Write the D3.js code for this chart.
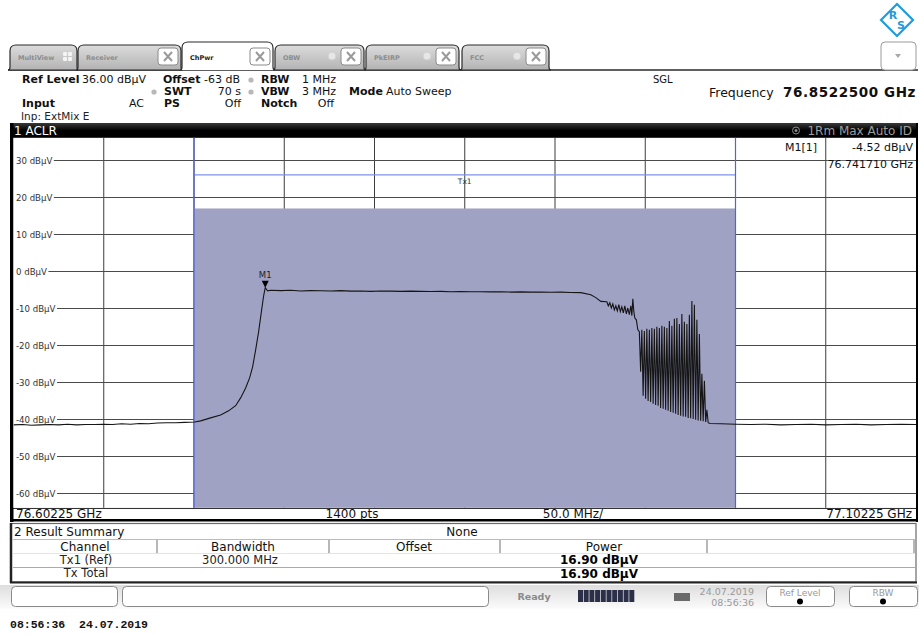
<!DOCTYPE html>
<html><head><meta charset="utf-8">
<script src="https://cdn.jsdelivr.net/npm/d3@7"></script>
<style>body{margin:0;background:#fff;} svg{display:block;font-family:"DejaVu Sans",sans-serif;}</style>
</head><body><svg id="c" width="919" height="635"></svg>
<script>
// ---------------- data ----------------
const startFreqGHz = 76.60225, stopFreqGHz = 77.10225;
const refLevel = 36, bottomLevel = -64;
const yTicks = [30, 20, 10, 0, -10, -20, -30, -40, -50, -60];
const xGridGHz = [76.65225, 76.70225, 76.75225, 76.80225, 76.85225, 76.90225, 76.95225, 77.00225, 77.05225];
const txStartGHz = 76.70225, txStopGHz = 77.00225, txPower = 16.90, txLineLevel = 26;
const markerFreqGHz = 76.741710, markerLevel = -4.52;

const traceFreqGHz = [76.60225, 76.60724, 76.61223, 76.61722, 76.62221, 76.62719, 76.63218, 76.63717, 76.64216, 76.64715,
  76.65214, 76.65713, 76.66212, 76.66711, 76.67209, 76.67708, 76.68207, 76.68706, 76.69205, 76.69704,
  76.70258, 76.70591, 76.71145, 76.71699, 76.72143, 76.72531, 76.72808, 76.73085, 76.73307, 76.73473,
  76.73640, 76.73806, 76.73972, 76.74083, 76.74171, 76.74305, 76.74471,
  76.75025, 76.75580, 76.76134, 76.76688, 76.77243, 76.77797, 76.78351, 76.78906, 76.79460, 76.80015,
  76.80569, 76.81123, 76.81678, 76.82232, 76.82786, 76.83341, 76.83895, 76.84449, 76.85004, 76.85558,
  76.86112, 76.86667, 76.87221, 76.87775, 76.88330, 76.88884, 76.89439, 76.89993, 76.90547, 76.91102, 76.91656,
  76.92209, 76.92486, 76.92764,
  76.93096, 76.93179, 76.93263, 76.93346, 76.93429, 76.93512, 76.93595, 76.93678, 76.93761, 76.93845,
  76.93928, 76.94011, 76.94094, 76.94177, 76.94260, 76.94343, 76.94427, 76.94482, 76.94537, 76.94593,
  76.94648, 76.94731, 76.94815];
const traceLevel = [-41.6, -41.5, -41.7, -41.6, -41.5, -41.6, -41.4, -41.6, -41.5, -41.5,
  -41.4, -41.5, -41.3, -41.4, -41.2, -41.3, -41.1, -41.0, -41.0, -40.9,
  -40.8, -40.5, -39.7, -38.9, -37.8, -36.4, -34.3, -31.6, -28.9, -25.9,
  -21.3, -16.4, -10.5, -6.7, -4.52, -5.35, -5.2,
  -5.3, -5.2, -5.4, -5.3, -5.35, -5.4, -5.3, -5.45, -5.4, -5.5,
  -5.4, -5.45, -5.5, -5.45, -5.5, -5.55, -5.5, -5.6, -5.55, -5.6,
  -5.6, -5.65, -5.6, -5.7, -5.65, -5.7, -5.7, -5.75, -5.7, -5.8, -5.85,
  -6.4, -7.2, -8.2,
  -8.3, -9.4, -8.6, -10.0, -8.9, -10.5, -9.4, -10.8, -9.1, -11.0,
  -9.7, -11.3, -9.4, -11.6, -10.0, -11.8, -9.4, -12.1, -7.5, -11.0,
  -12.7, -13.2, -15.9];

const spikeFreqGHz = [76.94898, 76.95036, 76.95175, 76.95313, 76.95452, 76.95591, 76.95729, 76.95868, 76.96006, 76.96145,
  76.96283, 76.96422, 76.96561, 76.96699, 76.96838, 76.96976, 76.97115, 76.97254, 76.97392, 76.97531,
  76.97669, 76.97808, 76.97946, 76.98085, 76.98224, 76.98362, 76.98501, 76.98639];
const spikeTop = [-16.4, -15.9, -16.2, -15.6, -15.9, -15.4, -15.6, -15.1, -15.4, -14.8,
  -15.1, -15.4, -13.5, -14.8, -12.9, -12.7, -14.3, -11.6, -13.7, -14.3,
  -11.8, -8.1, -9.1, -13.2, -17.0, -27.8, -29.7, -37.5];
const spikeBottomFreqGHz = [76.94970, 76.95108, 76.95247, 76.95385, 76.95524, 76.95663, 76.95801, 76.95940, 76.96078, 76.96217,
  76.96355, 76.96494, 76.96633, 76.96771, 76.96910, 76.97048, 76.97187, 76.97326, 76.97464, 76.97603,
  76.97741, 76.97880, 76.98018, 76.98157, 76.98296, 76.98434, 76.98573, 76.98711];
const spikeBottom = [-27.2, -33.7, -34.5, -35.1, -35.4, -35.9, -36.2, -36.4, -37.0, -37.2,
  -37.5, -37.8, -38.1, -38.3, -38.6, -38.9, -39.1, -39.3, -39.4, -39.7,
  -39.8, -40.0, -40.2, -40.4, -40.5, -40.6, -40.8, -41.0];

const tailFreqGHz = [76.98806, 76.99415, 77.00247, 77.01078, 77.01910, 77.02742, 77.03573, 77.04404, 77.05236, 77.06067,
  77.06899, 77.07730, 77.08562, 77.09393, 77.10225];
const tailLevel = [-41.2, -41.3, -41.4, -41.5, -41.4, -41.6, -41.5, -41.4, -41.6, -41.5,
  -41.4, -41.6, -41.5, -41.4, -41.5];

const tabLabels = ["MultiView", "Receiver", "ChPwr", "OBW", "PkEIRP", "FCC"];
const resultColumns = ["Channel", "Bandwidth", "Offset", "Power"];
const resultChannels = ["Tx1 (Ref)", "Tx Total"];
const resultBandwidths = ["300.000 MHz", ""];
const resultPowers = ["16.90 dBµV", "16.90 dBµV"];

// ---------------- drawing ----------------
const svg = d3.select("#c");
const defs = svg.append("defs");
const g1 = defs.append("linearGradient").attr("id", "tabg").attr("x1", 0).attr("y1", 0).attr("x2", 0).attr("y2", 1);
g1.append("stop").attr("offset", "0").attr("stop-color", "#dcdcdc");
g1.append("stop").attr("offset", "1").attr("stop-color", "#b3b3b3");
const g2 = defs.append("linearGradient").attr("id", "statg").attr("x1", 0).attr("y1", 0).attr("x2", 0).attr("y2", 1);
g2.append("stop").attr("offset", "0").attr("stop-color", "#dedede");
g2.append("stop").attr("offset", "1").attr("stop-color", "#fbfbfb");
const g3 = defs.append("linearGradient").attr("id", "titleg").attr("x1", 0).attr("y1", 0).attr("x2", 0).attr("y2", 1);
g3.append("stop").attr("offset", "0").attr("stop-color", "#3a3a3a");
g3.append("stop").attr("offset", "0.5").attr("stop-color", "#000");
g3.append("stop").attr("offset", "1").attr("stop-color", "#000");
defs.append("clipPath").attr("id", "plotclip").append("rect").attr("x", 13.5).attr("y", 137.8).attr("width", 902.5).attr("height", 370);

svg.append("rect").attr("width", 919).attr("height", 635).attr("fill", "#fff");

// R&S logo
const logo = svg.append("g").attr("transform", "translate(897,20)");
logo.append("path").attr("d", "M0,-16 L16,0 L0,16 L-16,0 Z").attr("fill", "#fff").attr("stroke", "#1f9be0").attr("stroke-width", 2.2);
logo.append("text").attr("x", -4).attr("y", -1).attr("font-size", 11).attr("font-weight", "bold").attr("fill", "#1f9be0").attr("text-anchor", "middle").text("R");
logo.append("text").attr("x", 4).attr("y", 9).attr("font-size", 11).attr("font-weight", "bold").attr("fill", "#1f9be0").attr("text-anchor", "middle").text("S");

// tabs
const tabX = [[10, 77], [78, 181], [182, 273], [275, 364], [366, 459], [462, 549]];
function tabPath(x0, x1, y0, y1, r) {
  return `M${x0 - 2},${y1} Q${x0},${y1} ${x0},${y1 - 3} L${x0},${y0 + r} Q${x0},${y0} ${x0 + r},${y0} L${x1 - r},${y0} Q${x1},${y0} ${x1},${y0 + r} L${x1},${y1 - 3} Q${x1},${y1} ${x1 + 2},${y1}`;
}
svg.append("line").attr("x1", 8).attr("x2", 918).attr("y1", 70).attr("y2", 70).attr("stroke", "#2a2a2a").attr("stroke-width", 1.5);
tabLabels.forEach((lab, i) => {
  const [x0, x1] = tabX[i];
  const active = lab === "ChPwr";
  const y0 = active ? 42 : 45;
  svg.append("path").attr("d", tabPath(x0, x1, y0, 70, 6) + (active ? "" : " Z"))
    .attr("fill", active ? "#fff" : "url(#tabg)").attr("stroke", "#2a2a2a").attr("stroke-width", 1.2);
  svg.append("text").attr("x", x0 + 8).attr("y", 60).attr("font-size", 6.5).attr("font-weight", "bold")
    .attr("fill", active ? "#222" : "#8c8c8c").text(lab);
  if (i === 0) {
    [[63, 52], [68, 52], [63, 57], [68, 57]].forEach(p => svg.append("rect").attr("x", p[0]).attr("y", p[1]).attr("width", 4).attr("height", 4).attr("rx", 1).attr("fill", "#f4f4f4"));
  } else {
    const bx = x1 - 23;
    svg.append("rect").attr("x", bx).attr("y", 48).attr("width", 20).attr("height", 17).attr("rx", 3)
      .attr("fill", "#fff").attr("stroke", "#8a8a8a").attr("stroke-width", 1);
    svg.append("path").attr("d", `M${bx + 6},${52} L${bx + 14},${61} M${bx + 14},${52} L${bx + 6},${61}`)
      .attr("stroke", "#9a9a9a").attr("stroke-width", 2);
    if (i >= 3) {
      svg.append("circle").attr("cx", bx - 9).attr("cy", 56).attr("r", 4).attr("fill", "#e6e6e6").attr("stroke", "#d0d0d0");
    }
  }
});
// dropdown button
svg.append("rect").attr("x", 881).attr("y", 42).attr("width", 35).attr("height", 28).attr("rx", 4).attr("fill", "#fff").attr("stroke", "#9a9a9a");
svg.append("path").attr("d", "M895,54 L901,54 L898,58 Z").attr("fill", "#a8a8a8");

// info block
function txt(x, y, s, opt = {}) {
  const t = svg.append("text").attr("x", x).attr("y", y).attr("font-size", opt.size || 11)
    .attr("fill", opt.fill || "#111").text(s);
  if (opt.bold) t.attr("font-weight", "bold");
  if (opt.anchor) t.attr("text-anchor", opt.anchor);
  if (opt.family) t.attr("font-family", opt.family);
  if (opt.ls) t.attr("letter-spacing", opt.ls);
  return t;
}
function dot(x, y) { svg.append("circle").attr("cx", x).attr("cy", y).attr("r", 2.6).attr("fill", "#b8b8b8"); }
txt(22, 83, "Ref Level", { bold: true }); txt(82, 83, "36.00 dBµV");
txt(163, 83, "Offset", { bold: true }); txt(240, 83, "-63 dB", { anchor: "end" });
dot(251, 80); txt(261, 83, "RBW", { bold: true }); txt(302, 83, "1 MHz");
dot(154, 92); txt(164, 95, "SWT", { bold: true }); txt(241, 95, "70 s", { anchor: "end" });
dot(251, 92); txt(261, 95, "VBW", { bold: true }); txt(302, 95, "3 MHz");
txt(349, 95, "Mode", { bold: true }); txt(386, 95, "Auto Sweep");
txt(22, 107, "Input", { bold: true }); txt(144, 107, "AC", { anchor: "end" });
txt(164, 107, "PS", { bold: true }); txt(241, 107, "Off", { anchor: "end" });
txt(261, 107, "Notch", { bold: true }); txt(334, 107, "Off", { anchor: "end" });
txt(21, 120, "Inp: ExtMix E", { size: 10.5, fill: "#222" });
txt(653, 83, "SGL", { size: 10 });
txt(709, 97, "Frequency", { size: 12.5 });
txt(916, 97, "76.8522500 GHz", { size: 13.5, bold: true, anchor: "end", ls: 0.6 });

// diagram frame
svg.append("rect").attr("x", 10).attr("y", 123).attr("width", 907).attr("height", 15).attr("fill", "url(#titleg)");
svg.append("rect").attr("x", 10).attr("y", 123).attr("width", 3.5).attr("height", 399).attr("fill", "#000");
svg.append("rect").attr("x", 916).attr("y", 123).attr("width", 2).attr("height", 399).attr("fill", "#000");
svg.append("rect").attr("x", 10).attr("y", 519).attr("width", 908).attr("height", 2.5).attr("fill", "#000");
svg.append("line").attr("x1", 13).attr("x2", 917).attr("y1", 508.3).attr("y2", 508.3).attr("stroke", "#000").attr("stroke-width", 1);
txt(14, 135, "1 ACLR", { size: 12, fill: "#fff" });
svg.append("circle").attr("cx", 796).attr("cy", 130.5).attr("r", 3.5).attr("fill", "none").attr("stroke", "#8a8a8a").attr("stroke-width", 1);
svg.append("circle").attr("cx", 796).attr("cy", 130.5).attr("r", 1.5).attr("fill", "#8a8a8a");
txt(912, 135, "1Rm Max Auto ID", { size: 12, fill: "#9c9c9c", anchor: "end" });

// scales
const x = d3.scaleLinear().domain([startFreqGHz, stopFreqGHz]).range([13.5, 916]);
const y = d3.scaleLinear().domain([bottomLevel, refLevel]).range([507.8, 137.8]);

const plot = svg.append("g");
plot.append("rect").attr("x", 13.5).attr("y", 137.8).attr("width", 902.5).attr("height", 370).attr("fill", "#fff");
// vertical grid
plot.selectAll("line.vg").data(xGridGHz).enter().append("line")
  .attr("x1", d => x(d)).attr("x2", d => x(d)).attr("y1", 137.8).attr("y2", 507.8)
  .attr("stroke", "#3c3c3c").attr("stroke-width", 1);
// horizontal grid with labels
yTicks.forEach(v => {
  const yy = Math.round(y(v)) + 0.5;
  const lbl = plot.append("text").attr("x", 16).attr("y", yy + 3).attr("font-size", 8.6).attr("fill", "#333").text(`${v} dBµV`);
  const w = lbl.node().getComputedTextLength();
  plot.insert("line", "text").attr("x1", 16 + w + 1.5).attr("x2", 916).attr("y1", yy).attr("y2", yy).attr("stroke", "#4a4a4a").attr("stroke-width", 1.2);
});
// channel power bar
plot.append("rect").attr("x", x(txStartGHz)).attr("y", y(txPower)).attr("width", x(txStopGHz) - x(txStartGHz))
  .attr("height", y(bottomLevel) - y(txPower)).attr("fill", "#a0a2c3");
plot.append("line").attr("x1", x(txStartGHz)).attr("x2", x(txStopGHz)).attr("y1", y(txLineLevel)).attr("y2", y(txLineLevel))
  .attr("stroke", "#7d92ea").attr("stroke-width", 1.2);
[txStartGHz, txStopGHz].forEach(f => plot.append("line").attr("x1", x(f)).attr("x2", x(f)).attr("y1", 137.8).attr("y2", 507.8)
  .attr("stroke", "#4f63dc").attr("stroke-width", 1.2));
plot.append("text").attr("x", x((txStartGHz + txStopGHz) / 2)).attr("y", 184).attr("font-size", 7.5).attr("fill", "#333")
  .attr("text-anchor", "middle").text("Tx1");

// trace
const pts = traceFreqGHz.map((f, i) => [f, traceLevel[i]]);
spikeFreqGHz.forEach((f, i) => { pts.push([f, spikeTop[i]]); pts.push([spikeBottomFreqGHz[i], spikeBottom[i]]); });
tailFreqGHz.forEach((f, i) => pts.push([f, tailLevel[i]]));
const line = d3.line().x(d => x(d[0])).y(d => y(d[1]));
plot.append("path").attr("d", line(pts)).attr("fill", "none").attr("stroke", "#151515").attr("stroke-width", 1.1)
  .attr("clip-path", "url(#plotclip)");

// marker
const mx = x(markerFreqGHz), my = y(markerLevel);
plot.append("path").attr("d", `M${mx - 3.5},${my - 7} L${mx + 3.5},${my - 7} L${mx},${my} Z`).attr("fill", "#000");
plot.append("text").attr("x", mx).attr("y", my - 10).attr("font-size", 8.5).attr("fill", "#222").attr("text-anchor", "middle").text("M1");

// marker table
txt(817, 151, "M1[1]", { size: 11, anchor: "end" });
txt(913, 151, `${markerLevel.toFixed(2)} dBµV`, { size: 11, anchor: "end" });
svg.append("rect").attr("x", 827).attr("y", 160.8).attr("width", 88).attr("height", 9).attr("fill", "#fff");
txt(913, 168, `${markerFreqGHz.toFixed(6)} GHz`, { size: 11, anchor: "end" });

// frequency label bar
txt(16, 518, `${startFreqGHz.toFixed(5)} GHz`, { size: 12 });
txt(352, 518, "1400 pts", { size: 12, anchor: "middle" });
txt(573, 518, "50.0 MHz/", { size: 12, anchor: "middle" });
txt(912, 518, `${stopFreqGHz.toFixed(5)} GHz`, { size: 12, anchor: "end" });

// result summary
svg.append("rect").attr("x", 11).attr("y", 523.5).attr("width", 905).attr("height", 58.5).attr("fill", "#fff").attr("stroke", "#6a6a6a").attr("stroke-width", 1.2);
svg.append("line").attr("x1", 11).attr("x2", 11).attr("y1", 523).attr("y2", 583).attr("stroke", "#222").attr("stroke-width", 2.5);
svg.append("line").attr("x1", 10).attr("x2", 917).attr("y1", 582.5).attr("y2", 582.5).attr("stroke", "#222").attr("stroke-width", 2);
txt(14, 536, "2 Result Summary", { size: 12 });
txt(462, 536, "None", { size: 12, anchor: "middle" });
svg.append("line").attr("x1", 13).attr("x2", 915).attr("y1", 539.5).attr("y2", 539.5).attr("stroke", "#bbb");
[157, 329, 500, 707, 914].forEach(sx => svg.append("line").attr("x1", sx).attr("x2", sx).attr("y1", 540).attr("y2", 553).attr("stroke", "#888").attr("stroke-width", 1.2));
const colCenters = [85, 243, 414, 604];
resultColumns.forEach((c, i) => txt(colCenters[i], 551, c, { size: 12, anchor: "middle" }));
svg.append("line").attr("x1", 13).attr("x2", 915).attr("y1", 553.5).attr("y2", 553.5).attr("stroke", "#e4e4e4");
svg.append("line").attr("x1", 13).attr("x2", 915).attr("y1", 567.5).attr("y2", 567.5).attr("stroke", "#aaa");
resultChannels.forEach((c, i) => {
  const by = 564 + i * 13;
  txt(86, by, c, { size: 11.5, anchor: "middle", fill: "#222" });
  if (resultBandwidths[i]) txt(240, by, resultBandwidths[i], { size: 11.5, anchor: "middle", fill: "#222" });
  txt(599, 564 + i * 14, resultPowers[i], { size: 12, bold: true, anchor: "middle", fill: "#000" });
});

// status bar
svg.append("rect").attr("x", 0).attr("y", 585).attr("width", 919).attr("height", 24).attr("fill", "url(#statg)");
svg.append("rect").attr("x", 11.5).attr("y", 586.5).attr("width", 106).attr("height", 20).attr("rx", 4).attr("fill", "#fff").attr("stroke", "#8a8a8a");
svg.append("rect").attr("x", 122.5).attr("y", 586.5).attr("width", 366).attr("height", 20).attr("rx", 4).attr("fill", "#fff").attr("stroke", "#8a8a8a");
txt(534, 600, "Ready", { size: 9.5, fill: "#8a8a8a", anchor: "middle", bold: true });
for (let i = 0; i < 10; i++) svg.append("rect").attr("x", 578 + i * 5.7).attr("y", 590).attr("width", 5).attr("height", 12).attr("fill", "#2b2f48");
svg.append("rect").attr("x", 674).attr("y", 593).attr("width", 16).attr("height", 8).attr("fill", "#6a6a6a");
txt(754, 595, "24.07.2019", { size: 9.5, fill: "#9a9a9a", anchor: "end" });
txt(754, 606, "08:56:36", { size: 9.5, fill: "#9a9a9a", anchor: "end" });
[[766, 834, "Ref Level"], [849, 917, "RBW"]].forEach(b => {
  svg.append("rect").attr("x", b[0] + 0.5).attr("y", 586.5).attr("width", b[1] - b[0]).attr("height", 20).attr("rx", 4).attr("fill", "#fff").attr("stroke", "#8a8a8a");
  txt((b[0] + b[1]) / 2, 596, b[2], { size: 9, fill: "#999", anchor: "middle" });
  svg.append("circle").attr("cx", (b[0] + b[1]) / 2).attr("cy", 601.5).attr("r", 3).attr("fill", "#000");
});

// footer timestamp
txt(10, 628, "08:56:36  24.07.2019", { size: 11.5, bold: true, family: "Liberation Mono, monospace", fill: "#111" })
  .style("white-space", "pre");
</script></body></html>
